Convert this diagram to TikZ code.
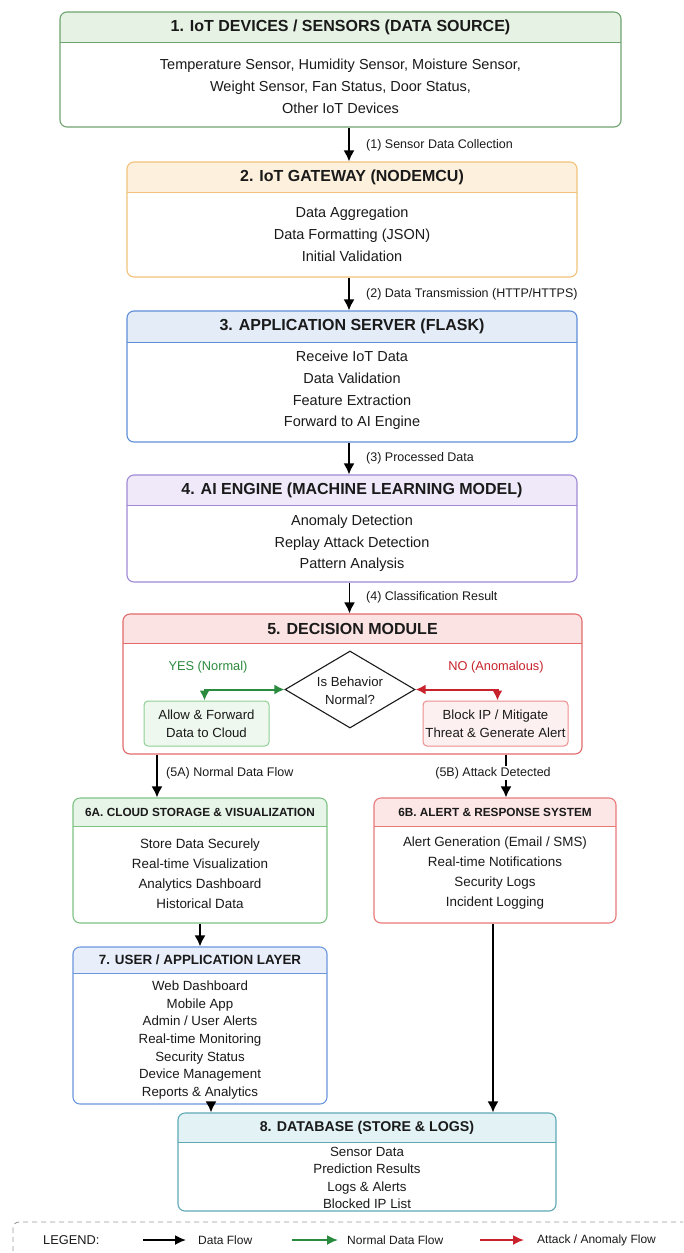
\documentclass[tikz,border=0pt]{standalone}
\usepackage{fontspec}
\setmainfont{Liberation Sans}
\usetikzlibrary{arrows.meta,shapes.geometric,calc,fit}
\definecolor{txt}{HTML}{1A1A1A}
\definecolor{c1b}{HTML}{6FA36F}\definecolor{c1h}{HTML}{E6F2E3}
\definecolor{c2b}{HTML}{F2C27A}\definecolor{c2h}{HTML}{FDF0DC}
\definecolor{c3b}{HTML}{5D8FD8}\definecolor{c3h}{HTML}{E4ECF8}
\definecolor{c4b}{HTML}{A08AD6}\definecolor{c4h}{HTML}{EFE9F9}
\definecolor{c5b}{HTML}{E26A6A}\definecolor{c5h}{HTML}{FBE3E3}
\definecolor{c6ab}{HTML}{7DC383}\definecolor{c6ah}{HTML}{E7F5E8}
\definecolor{c6bb}{HTML}{E87979}\definecolor{c6bh}{HTML}{FDE6E6}
\definecolor{c7b}{HTML}{6B96DC}\definecolor{c7h}{HTML}{E8EEFA}
\definecolor{c8b}{HTML}{5FA9B5}\definecolor{c8h}{HTML}{E2F2F5}
\definecolor{allowb}{HTML}{8FCF95}\definecolor{allowf}{HTML}{EEF8EE}
\definecolor{blockb}{HTML}{EC8D8D}\definecolor{blockf}{HTML}{FDF0F0}
\definecolor{garrow}{HTML}{2A8A3E}\definecolor{rarrow}{HTML}{C8232C}
\definecolor{legendgray}{HTML}{9A9A9A}
\tikzset{
  layer/.style n args={3}{draw=#1, line width=1.1pt, rounded corners=7pt, fill=white, inner sep=0pt,
    path picture={\fill[#2, sharp corners] (path picture bounding box.north west) rectangle ([yshift=-#3]path picture bounding box.north east);
      \draw[#1, line width=0.9pt, sharp corners] ([yshift=-#3]path picture bounding box.north west) -- ([yshift=-#3]path picture bounding box.north east);}},
  hdrbig/.style={text=txt, font=\fontsize{16}{18}\selectfont\bfseries},
  bodybig/.style={text=txt, align=center, font=\fontsize{14.5}{#1}\selectfont},
  flowlabel/.style={text=txt, anchor=west, font=\fontsize{12.5}{15}\selectfont, inner sep=1pt},
  arr/.style={line width=1.8pt, draw=black, -{Latex[length=11pt,width=11pt]}},
  garr/.style={line width=2pt, draw=garrow, {Latex[length=10pt,width=10pt]}-{Latex[length=10pt,width=10pt]}},
  rarr/.style={line width=2pt, draw=rarrow, {Latex[length=10pt,width=10pt]}-{Latex[length=10pt,width=10pt]}},
  legarr/.style={line width=1.8pt, -{Latex[length=11pt,width=10pt]}},
  smallbox/.style n args={2}{draw=#1, fill=#2, line width=1pt, rounded corners=4pt, inner sep=0pt},
  midtext/.style={text=txt, align=center, font=\fontsize{13.2}{18}\selectfont},
}
\begin{document}
\begin{tikzpicture}[x=1pt,y=-1pt]
\useasboundingbox[fill=white] (0,0) rectangle (683,1253);

% ---------- Box 1
\node[layer={c1b}{c1h}{30pt}, fit={(60,12) (621,127)}] (b1) {};
\node[hdrbig] (t1) at (340.5,27) {1. IoT DEVICES / SENSORS (DATA SOURCE)};
\node[bodybig=22] (d1) at (340.5,86) {Temperature Sensor, Humidity Sensor, Moisture Sensor,\\Weight Sensor, Fan Status, Door Status,\\Other IoT Devices};

% ---------- Box 2
\node[layer={c2b}{c2h}{30pt}, fit={(127,162) (577,277)}] (b2) {};
\node[hdrbig] (t2) at (352,177) {2. IoT GATEWAY (NODEMCU)};
\node[bodybig=22] (d2) at (352,234) {Data Aggregation\\Data Formatting (JSON)\\Initial Validation};

% ---------- Box 3
\node[layer={c3b}{c3h}{31pt}, fit={(127,311) (577,442)}] (b3) {};
\node[hdrbig] (t3) at (352,326.5) {3. APPLICATION SERVER (FLASK)};
\node[bodybig=21.7] (d3) at (352,390.5) {Receive IoT Data\\Data Validation\\Feature Extraction\\Forward to AI Engine};

% ---------- Box 4
\node[layer={c4b}{c4h}{30pt}, fit={(127,475) (577,582)}] (b4) {};
\node[hdrbig] (t4) at (352,490) {4. AI ENGINE (MACHINE LEARNING MODEL)};
\node[bodybig=21.5] (d4) at (352,543.5) {Anomaly Detection\\Replay Attack Detection\\Pattern Analysis};

% ---------- Box 5
\node[layer={c5b}{c5h}{29pt}, fit={(123,614) (582,754)}] (b5) {};
\node[hdrbig] (t5) at (352.5,629) {5. DECISION MODULE};
\node[diamond, draw=txt, line width=1.1pt, fill=white, aspect=1.7, inner sep=0pt,
      minimum width=130pt, minimum height=77pt] (dia) at (350,689.5) {};
\node[midtext] (diat) at (350,691) {Is Behavior\\Normal?};
\node[smallbox={allowb}{allowf}, fit={(144,701) (269,746)}] (allow) {};
\node[midtext] (allowt) at (206.5,724) {Allow \& Forward\\Data to Cloud};
\node[smallbox={blockb}{blockf}, fit={(423,701) (568,746)}] (block) {};
\node[midtext] (blockt) at (495.5,724) {Block IP / Mitigate\\Threat \& Generate Alert};
\node[text=garrow, font=\fontsize{12.8}{15}\selectfont] (yes) at (208,667) {YES (Normal)};
\node[text=rarrow, font=\fontsize{12.8}{15}\selectfont] (no) at (496,667) {NO (Anomalous)};
\draw[garr] ([xshift=-2pt]allow.north) |- (dia.west);
\draw[rarr] (dia.east) -| ([xshift=2pt]block.north);

% ---------- Box 6A
\node[layer={c6ab}{c6ah}{28pt}, fit={(73,798) (327,923)}] (b6a) {};
\node[text=txt, font=\fontsize{11.8}{14}\selectfont\bfseries] (t6a) at (200,812) {6A. CLOUD STORAGE \& VISUALIZATION};
\node[text=txt, align=center, font=\fontsize{13.4}{20}\selectfont] (d6a) at (200,873.5) {Store Data Securely\\Real-time Visualization\\Analytics Dashboard\\Historical Data};

% ---------- Box 6B
\node[layer={c6bb}{c6bh}{28pt}, fit={(374,798) (616,923)}] (b6b) {};
\node[text=txt, font=\fontsize{11.8}{14}\selectfont\bfseries] (t6b) at (495,812) {6B. ALERT \& RESPONSE SYSTEM};
\node[text=txt, align=center, font=\fontsize{13.4}{20}\selectfont] (d6b) at (495,873.5) {Alert Generation (Email / SMS)\\Real-time Notifications\\Security Logs\\Incident Logging};

% ---------- Box 7
\node[layer={c7b}{c7h}{26pt}, fit={(73,947) (327,1104)}] (b7) {};
\node[text=txt, font=\fontsize{13.4}{15}\selectfont\bfseries] (t7) at (200,960) {7. USER / APPLICATION LAYER};
\node[text=txt, align=center, font=\fontsize{13.3}{17.7}\selectfont] (d7) at (200,1040) {Web Dashboard\\Mobile App\\Admin / User Alerts\\Real-time Monitoring\\Security Status\\Device Management\\Reports \& Analytics};

% ---------- Box 8
\node[layer={c8b}{c8h}{29pt}, fit={(178,1113) (556,1211)}] (b8) {};
\node[text=txt, font=\fontsize{14.2}{16}\selectfont\bfseries] (t8) at (367,1128) {8. DATABASE (STORE \& LOGS)};
\node[text=txt, align=center, font=\fontsize{13.3}{17.3}\selectfont] (d8) at (367,1178) {Sensor Data\\Prediction Results\\Logs \& Alerts\\Blocked IP List};

% ---------- Main flow arrows
\path ([xshift=-3pt]b2.north) coordinate (a2);
\path ([xshift=-3pt]b3.north) coordinate (a3);
\path ([xshift=-3pt]b4.north) coordinate (a4);
\path ([xshift=-3pt]b5.north) coordinate (a5);
\draw[arr] (b1.south -| a2) -- (a2);
\draw[arr] (b2.south -| a3) -- (a3);
\draw[arr] (b3.south -| a4) -- (a4);
\draw[arr] (b4.south -| a5) -- (a5);
\node[flowlabel] (l1) at (365,145) {(1) Sensor Data Collection};
\node[flowlabel] (l2) at (365,294) {(2) Data Transmission (HTTP/HTTPS)};
\node[flowlabel] (l3) at (365,458) {(3) Processed Data};
\node[flowlabel] (l4) at (365,597) {(4) Classification Result};

% 5A / 5B
\path ([xshift=-43pt]b6a.north) coordinate (a6a);
\path ([xshift=11pt]b6b.north) coordinate (a6b);
\draw[arr] (b5.south -| a6a) -- (a6a);
\draw[arr] (b5.south -| a6b) -- (a6b);
\node[flowlabel] (l5a) at (165,773) {(5A) Normal Data Flow};
\node[flowlabel, anchor=center, fill=white, inner sep=1.5pt] (l5b) at (493,773) {(5B) Attack Detected};

% lower arrows
\draw[arr] (b6a.south) -- (b7.north);
\path ([xshift=11pt]b7.south) coordinate (s7);
\draw[arr] (s7) -- (s7 |- b8.north);
\path ([xshift=-2pt]b6b.south) coordinate (s6b);
\draw[arr] (s6b) -- (s6b |- b8.north);

% ---------- Legend
\begin{scope}
\clip (0,0) rectangle (683,1253);
\draw[legendgray, line width=0.9pt, dash pattern=on 5pt off 4pt, rounded corners=6pt] (13,1222) rectangle (720,1290);
\end{scope}
\node[text=txt, anchor=west, font=\fontsize{12.8}{15}\selectfont, inner sep=0pt] (leg) at (43,1240) {LEGEND:};
\coordinate (k1a) at (143,1240); \coordinate (k1b) at (186,1240);
\coordinate (k2a) at (292,1240); \coordinate (k2b) at (338,1240);
\coordinate (k3a) at (480,1240); \coordinate (k3b) at (524,1240);
\draw[legarr, black] (k1a) -- (k1b);
\draw[legarr, garrow] (k2a) -- (k2b);
\draw[legarr, rarrow] (k3a) -- (k3b);
\node[text=txt, anchor=west, font=\fontsize{12}{15}\selectfont, inner sep=0pt] (lg1) at (198,1240) {Data Flow};
\node[text=txt, anchor=west, font=\fontsize{12}{15}\selectfont, inner sep=0pt] (lg2) at (347,1240) {Normal Data Flow};
\node[text=txt, anchor=west, font=\fontsize{12}{15}\selectfont, inner sep=0pt] (lg3) at (537,1240) {Attack / Anomaly Flow};
\end{tikzpicture}
\end{document}
